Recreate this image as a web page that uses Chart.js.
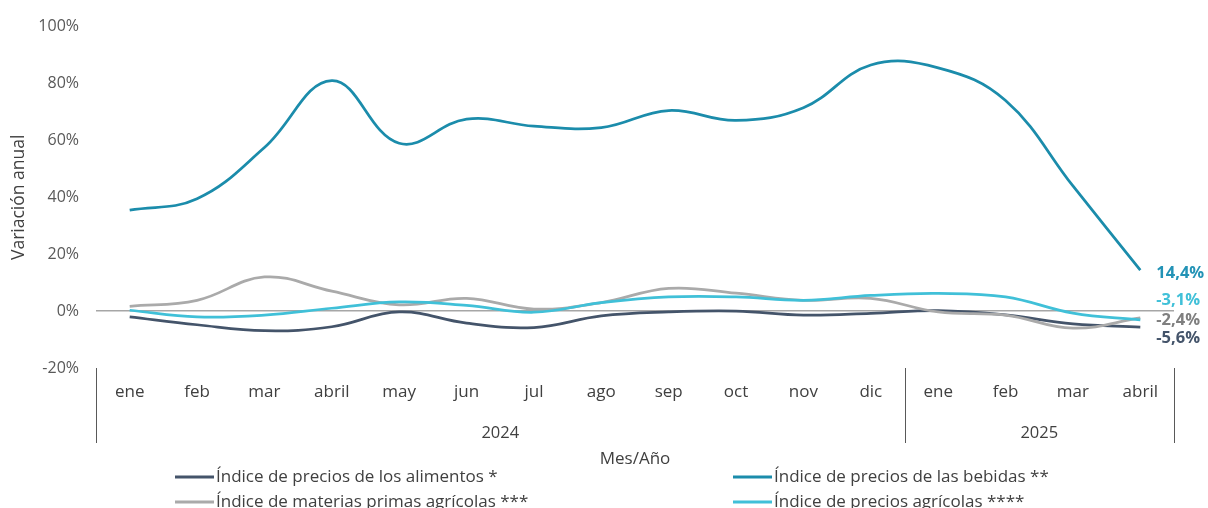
<!DOCTYPE html>
<html>
<head>
<meta charset="utf-8">
<script src="https://cdn.jsdelivr.net/npm/chart.js@4"></script>
<style>
  html, body { margin: 0; padding: 0; background: #fff; }
  #wrap { width: 1208px; height: 508px; }
</style>
</head>
<body>
<div id="wrap"><canvas id="indexChart" width="1208" height="508"></canvas></div>
<script>
const months = ['ene', 'feb', 'mar', 'abril', 'may', 'jun', 'jul', 'ago', 'sep', 'oct', 'nov', 'dic', 'ene', 'feb', 'mar', 'abril'];
const years = ['2024', '2025'];
const monthsPerYear = [12, 4];

const seriesNames = [
    'Índice de precios de los alimentos *',
    'Índice de precios de las bebidas **',
    'Índice de materias primas agrícolas ***',
    'Índice de precios agrícolas ****'
];
const alimentos = [-2, -4.8, -6.9, -5.5, -0.3, -4.2, -5.8, -1.7, -0.3, 0, -1.4, -0.8, 0.2, -1.3, -4.5, -5.6];
const bebidas = [35.5, 39.5, 57.5, 81, 59, 67.5, 65, 64.5, 70.5, 67, 71.5, 86.5, 85.5, 74, 44, 14.4];
const materiasPrimas = [1.7, 3.8, 12, 7, 2.2, 4.5, 0.7, 3, 8, 6.3, 3.8, 4.5, -0.3, -1.4, -6, -2.4];
const agricolas = [0.3, -2, -1.4, 1, 3.2, 2, -0.4, 3, 5, 5, 3.8, 5.5, 6.2, 5, -0.7, -3.1];
const yTicks = [-20, 0, 20, 40, 60, 80, 100];

const lineColors = ['#44546a', '#1b8cab', '#aaaaaa', '#40c0d8'];
const labelColors = ['#44546a', '#2393b6', '#7f7f7f', '#40c0d8'];
const FONT = '"Open Sans", "Noto Sans", sans-serif';

// value labels at the end of each line
const endLabels = {
    id: 'endLabels',
    afterDatasetsDraw(chart, args, opts) {
        const ctx = chart.ctx;
        ctx.save();
        ctx.font = 'bold 16.5px ' + FONT;
        ctx.textAlign = 'left';
        ctx.textBaseline = 'middle';
        chart.data.datasets.forEach((ds, i) => {
            const pts = chart.getDatasetMeta(i).data;
            const last = pts[pts.length - 1];
            const v = ds.data[ds.data.length - 1];
            ctx.fillStyle = labelColors[i];
            ctx.fillText(v.toFixed(1).replace('.', ',') + '%', last.x + opts.dx, last.y + opts.dy[i]);
        });
        ctx.restore();
    }
};

// year row + separators under the month labels, and the 2x2 legend
const yearRowAndLegend = {
    id: 'yearRowAndLegend',
    afterDraw(chart, args, opts) {
        const ctx = chart.ctx;
        const x = chart.scales.x;
        const bounds = [x.left];
        let idx = 0;
        monthsPerYear.forEach(n => {
            idx += n;
            bounds.push(idx < months.length ? (x.getPixelForTick(idx - 1) + x.getPixelForTick(idx)) / 2 : x.right);
        });
        ctx.save();
        ctx.strokeStyle = '#595959';
        ctx.lineWidth = 1;
        bounds.forEach(b => {
            const px = Math.round(b) + 0.5;
            ctx.beginPath();
            ctx.moveTo(px, opts.sepTop);
            ctx.lineTo(px, opts.sepBottom);
            ctx.stroke();
        });
        ctx.fillStyle = '#404040';
        ctx.font = '16.5px ' + FONT;
        ctx.textAlign = 'center';
        ctx.textBaseline = 'middle';
        years.forEach((y, k) => ctx.fillText(y, (bounds[k] + bounds[k + 1]) / 2, opts.yearY));

        // legend
        ctx.font = '17px ' + FONT;
        ctx.textAlign = 'left';
        seriesNames.forEach((name, i) => {
            const lx = opts.legendX[i % 2];
            const ly = opts.legendY[Math.floor(i / 2)];
            ctx.strokeStyle = lineColors[i];
            ctx.lineWidth = 3;
            ctx.beginPath();
            ctx.moveTo(lx, ly);
            ctx.lineTo(lx + 39, ly);
            ctx.stroke();
            ctx.fillStyle = '#404040';
            ctx.fillText(name, lx + 41, ly);
        });
        ctx.restore();
    }
};

const datasets = [alimentos, bebidas, materiasPrimas, agricolas].map((data, i) => ({
    label: seriesNames[i],
    data: data,
    borderColor: lineColors[i],
    backgroundColor: lineColors[i],
    borderWidth: 2.75,
    pointRadius: 0,
    tension: 0.4,
    fill: false,
    order: i === 3 ? 0 : 4 - i
}));

const chart = new Chart(document.getElementById('indexChart'), {
    type: 'line',
    data: { labels: months, datasets },
    plugins: [endLabels, yearRowAndLegend],
    options: {
        responsive: false,
        animation: false,
        layout: { padding: { left: 0, right: 34, top: 21, bottom: 0 } },
        plugins: {
            legend: { display: false },
            tooltip: { enabled: false },
            endLabels: { dx: 16, dy: [11, 3, 2, -20] },
            yearRowAndLegend: { sepTop: 368, sepBottom: 443, yearY: 433, legendX: [175, 733], legendY: [477, 502] }
        },
        scales: {
            x: {
                offset: true,
                grid: { display: false, drawTicks: false },
                border: { display: false },
                ticks: { color: '#404040', font: { family: FONT, size: 17 }, padding: 14, maxRotation: 0, autoSkip: false },
                title: { display: true, text: 'Mes/Año', color: '#404040', font: { family: FONT, size: 17 }, padding: { top: 0, bottom: 39 } },
                afterFit(axis) { axis.height = 140; }
            },
            y: {
                min: -20,
                max: 100,
                afterBuildTicks(axis) { axis.ticks = yTicks.map(v => ({ value: v })); },
                grid: {
                    drawTicks: false,
                    color: c => c.tick && c.tick.value === 0 ? '#a6a6a6' : 'rgba(0,0,0,0)',
                    lineWidth: 1.5
                },
                border: { display: false },
                ticks: { color: '#595959', font: { family: FONT, size: 16 }, padding: 17, callback: v => v + '%' },
                title: { display: true, text: 'Variación anual', color: '#404040', font: { family: FONT, size: 17.5 }, padding: { top: 9, bottom: 0 } },
                afterFit(axis) { axis.width = 96; }
            }
        }
    }
});
</script>
</body>
</html>
